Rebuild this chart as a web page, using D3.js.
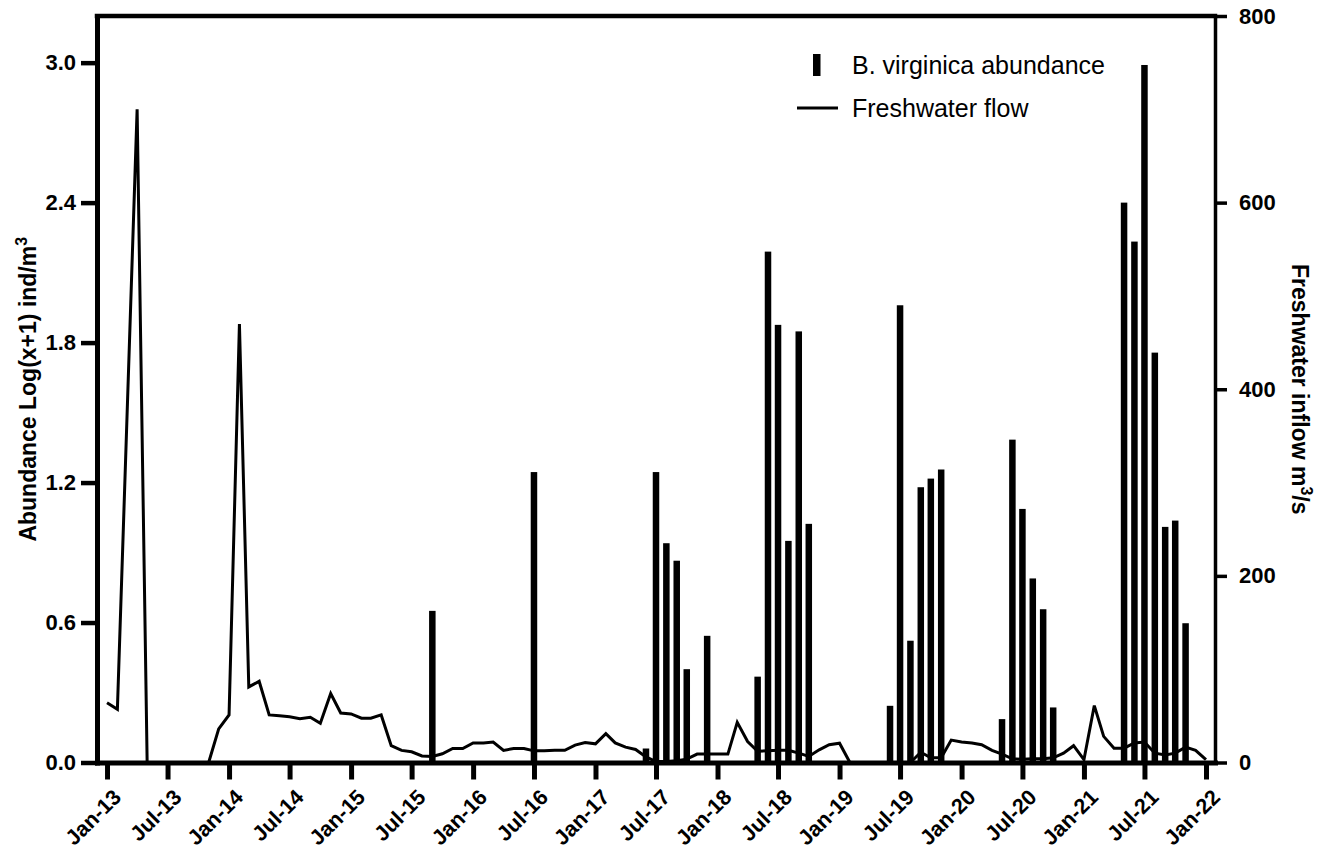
<!DOCTYPE html>
<html>
<head>
<meta charset="utf-8">
<script src="https://cdn.jsdelivr.net/npm/d3@7"></script>
<style>
  body { margin: 0; background: #fff; }
  svg { display: block; font-family: "Liberation Sans", Arial, sans-serif; }
</style>
</head>
<body>
<div id="chart"></div>
<script>
// abondance B. virginica (log(x+1) ind/m3), une barre par mois echantillonne
const abundanceMonths = ["2015-09","2016-07",
  "2017-06","2017-07","2017-08","2017-09","2017-10","2017-12",
  "2018-05","2018-06","2018-07","2018-08","2018-09","2018-10",
  "2019-06","2019-07","2019-08","2019-09","2019-10","2019-11",
  "2020-05","2020-06","2020-07","2020-08","2020-09","2020-10",
  "2021-05","2021-06","2021-07","2021-08","2021-09","2021-10","2021-11"];
const abundanceValues = [0.65, 1.245,
  0.06, 1.245, 0.94, 0.865, 0.40, 0.543,
  0.368, 2.19, 1.876, 0.95, 1.848, 1.023,
  0.243, 1.96, 0.522, 1.18, 1.217, 1.256,
  0.186, 1.384, 1.087, 0.789, 0.657, 0.236,
  2.40, 2.233, 2.99, 1.757, 1.01, 1.037, 0.597];

// debit d'eau douce (m3/s), mensuel
const flowMonths = ["2013-01","2013-02","2013-04","2013-05","2013-06","2013-07","2013-08","2013-09","2013-10","2013-11","2013-12",
  "2014-01","2014-02","2014-03","2014-04","2014-05","2014-06","2014-07","2014-08","2014-09","2014-10","2014-11","2014-12",
  "2015-01","2015-02","2015-03","2015-04","2015-05","2015-06","2015-07","2015-08","2015-09","2015-10","2015-11","2015-12",
  "2016-01","2016-02","2016-03","2016-04","2016-05","2016-06","2016-07","2016-08","2016-09","2016-10","2016-11","2016-12",
  "2017-01","2017-02","2017-03","2017-04","2017-05","2017-06","2017-07","2017-08","2017-09","2017-10","2017-11","2017-12",
  "2018-01","2018-02","2018-03","2018-04","2018-05","2018-06","2018-07","2018-08","2018-09","2018-10","2018-11","2018-12",
  "2019-01","2019-02","2019-03","2019-04","2019-05","2019-06","2019-07","2019-08","2019-09","2019-10","2019-11","2019-12",
  "2020-01","2020-02","2020-03","2020-04","2020-05","2020-06","2020-07","2020-08","2020-09","2020-10","2020-11","2020-12",
  "2021-01","2021-02","2021-03","2021-04","2021-05","2021-06","2021-07","2021-08","2021-09","2021-10","2021-11","2021-12",
  "2022-01"];
const flowValues = [64, 57, 700, 0, 0, 0, 0, 0, 0, 0, 36,
  51, 470, 81, 87, 51, 50, 49, 47, 48.5, 42, 74, 53,
  52, 47.5, 47.5, 51, 18, 13, 11.5, 7, 6.5, 9.3, 15, 15,
  21, 21, 22, 13, 15, 15, 12.5, 12.5, 13, 13, 18.6, 21.5,
  20, 31, 21, 16.5, 14, 6, 1, 1, 2, 3.6, 9, 9,
  9, 9, 43, 22.5, 12, 12.5, 13, 13, 10, 6.5, 13.6, 19,
  20.7, 0, 0, 0, 0, 0, 0, 0, 11, 5, 5, 24,
  22, 21, 19, 13, 9, 4, 3.6, 4, 4, 5, 10, 18,
  3, 61, 28, 15.4, 15.4, 21, 22, 10, 8, 10, 16.5, 13,
  3];

const xTickLabels = ["Jan-13","Jul-13","Jan-14","Jul-14","Jan-15","Jul-15","Jan-16","Jul-16","Jan-17",
  "Jul-17","Jan-18","Jul-18","Jan-19","Jul-19","Jan-20","Jul-20","Jan-21","Jul-21","Jan-22"];
const leftTicks = [0, 0.6, 1.2, 1.8, 2.4, 3.0];
const rightTicks = [0, 200, 400, 600, 800];

const width = 1322, height = 849;
const plotLeft = 97, plotRight = 1215, plotTop = 16, plotBottom = 762.5;

const parseMonth = d3.timeParse("%Y-%m");
const parseTick = d3.timeParse("%b-%y");

const bars = abundanceMonths.map((m, i) => ({date: parseMonth(m), v: abundanceValues[i]}));
const flow = flowMonths.map((m, i) => ({date: parseMonth(m), v: flowValues[i]}));
const xTicks = xTickLabels.map(parseTick);

const x = d3.scaleTime()
    .domain([new Date(2012, 11, 2), new Date(2022, 0, 28)])
    .range([plotLeft, plotRight]);
const yLeft = d3.scaleLinear().domain([0, 3.2]).range([plotBottom, plotTop]);
const yRight = d3.scaleLinear().domain([0, 800]).range([plotBottom, plotTop]);

const svg = d3.select("#chart").append("svg")
    .attr("width", width)
    .attr("height", height);

// barres d'abondance
const barWidth = 6.5;
svg.append("g")
    .selectAll("rect")
    .data(bars)
    .enter().append("rect")
    .attr("x", d => x(d.date) - barWidth / 2)
    .attr("y", d => yLeft(d.v))
    .attr("width", barWidth)
    .attr("height", d => yLeft(0) - yLeft(d.v))
    .attr("fill", "#000");

// courbe du debit
const line = d3.line()
    .x(d => x(d.date))
    .y(d => yRight(d.v));
svg.append("path")
    .datum(flow)
    .attr("d", line)
    .attr("fill", "none")
    .attr("stroke", "#000")
    .attr("stroke-width", 3)
    .attr("stroke-linejoin", "miter");

// cadre du haut
svg.append("line")
    .attr("x1", plotLeft).attr("x2", plotRight)
    .attr("y1", plotTop).attr("y2", plotTop)
    .attr("stroke", "#000")
    .attr("stroke-width", 4.5)
    .attr("stroke-linecap", "square");

// axe gauche
const gLeft = svg.append("g")
    .attr("transform", `translate(${plotLeft},0)`)
    .call(d3.axisLeft(yLeft).tickValues(leftTicks).tickFormat(d3.format(".1f"))
        .tickSize(16).tickSizeOuter(0).tickPadding(5));
gLeft.select(".domain").attr("stroke-width", 5).attr("stroke-linecap", "square");
gLeft.selectAll(".tick line").attr("stroke-width", 4.5);
gLeft.selectAll(".tick text")
    .style("font-size", "22px").style("font-weight", "bold")
    .style("font-family", "'Liberation Sans', Arial, sans-serif");

// axe droit
const gRight = svg.append("g")
    .attr("transform", `translate(${plotRight},0)`)
    .call(d3.axisRight(yRight).tickValues(rightTicks)
        .tickSize(12).tickSizeOuter(0).tickPadding(12));
gRight.select(".domain").attr("stroke-width", 3.5);
gRight.selectAll(".tick line").attr("stroke-width", 3.5);
gRight.selectAll(".tick text")
    .style("font-size", "22px").style("font-weight", "bold")
    .style("font-family", "'Liberation Sans', Arial, sans-serif");

// axe du bas
const gBottom = svg.append("g")
    .attr("transform", `translate(0,${plotBottom})`)
    .call(d3.axisBottom(x).tickValues(xTicks).tickFormat((d, i) => xTickLabels[i])
        .tickSize(17).tickSizeOuter(0));
gBottom.select(".domain").attr("stroke-width", 5).attr("stroke-linecap", "square");
gBottom.selectAll(".tick line").attr("stroke-width", 5);
gBottom.selectAll(".tick text")
    .attr("text-anchor", "end")
    .attr("dy", "0.72em")
    .attr("y", 0)
    .attr("transform", "translate(4,25) rotate(-45)")
    .style("font-size", "21.5px").style("font-weight", "bold")
    .style("font-family", "'Liberation Sans', Arial, sans-serif");

// titres des axes
const leftTitle = svg.append("text")
    .attr("transform", `translate(36,${(plotTop + plotBottom) / 2}) rotate(-90)`)
    .attr("text-anchor", "middle")
    .style("font-size", "23px")
    .style("font-weight", "bold");
leftTitle.append("tspan").text("Abundance Log(x+1) ind/m");
leftTitle.append("tspan").attr("dy", -9).style("font-size", "16px").text("3");

const rightTitle = svg.append("text")
    .attr("transform", `translate(1292,${(plotTop + plotBottom) / 2}) rotate(90)`)
    .attr("text-anchor", "middle")
    .style("font-size", "23px")
    .style("font-weight", "bold");
rightTitle.append("tspan").text("Freshwater inflow m");
rightTitle.append("tspan").attr("dy", -9).style("font-size", "16px").text("3");
rightTitle.append("tspan").attr("dy", 9).text("/s");

// legende
const legend = svg.append("g");
legend.append("rect")
    .attr("x", 813).attr("y", 54)
    .attr("width", 7.5).attr("height", 22)
    .attr("fill", "#000");
legend.append("text")
    .attr("x", 852).attr("y", 74)
    .style("font-size", "25px")
    .text("B. virginica abundance");
legend.append("line")
    .attr("x1", 797).attr("x2", 838)
    .attr("y1", 108).attr("y2", 108)
    .attr("stroke", "#000").attr("stroke-width", 3);
legend.append("text")
    .attr("x", 852).attr("y", 117)
    .style("font-size", "25px")
    .text("Freshwater flow");
</script>
</body>
</html>
